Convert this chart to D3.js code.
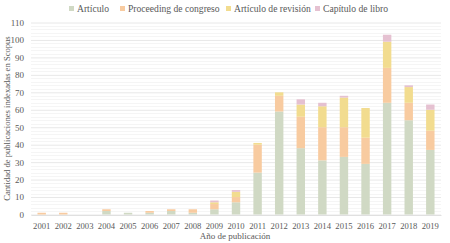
<!DOCTYPE html>
<meta charset="utf-8">
<title>Publicaciones indexadas en Scopus</title>
<style>
body { margin: 0; background: #fff; }
svg text { font-family: "Liberation Serif", Tinos, "Times New Roman", "DejaVu Serif", serif; }
</style>
<body>
<div id="chart"></div>
<script src="https://cdn.jsdelivr.net/npm/d3@7"></script>
<script>
// data
var years = ["2001","2002","2003","2004","2005","2006","2007","2008","2009","2010",
             "2011","2012","2013","2014","2015","2016","2017","2018","2019"];
var articulo   = [0,0,0,2,1,1,2,1,3,7,24,59,38,31,33,29,64,54,37];
var proceeding = [1,1,0,1,0,1,1,2,3,3,16,9,18,19,17,15,20,10,11];
var revision   = [0,0,0,0,0,0,0,0,1,3,1,2,7,12,17,17,15,9,12];
var capitulo   = [0,0,0,0,0,0,0,0,1,1,0,0,3,2,1,0,4,1,3];
var seriesNames = ["Artículo","Proceeding de congreso","Artículo de revisión","Capítulo de libro"];
var colors = ["#d0d9c4","#f8cba0","#f2dc8f","#e5c1d1"];

var width = 450, height = 243;
var margin = {top: 22, right: 9, bottom: 28, left: 31};
var textColor = "#595959";

var rows = years.map(function(y, i) {
  return {year: y, "Artículo": articulo[i], "Proceeding de congreso": proceeding[i],
          "Artículo de revisión": revision[i], "Capítulo de libro": capitulo[i]};
});
var stacked = d3.stack().keys(seriesNames)(rows);

var svg = d3.select("#chart").append("svg")
    .attr("width", width).attr("height", height);

var x = d3.scaleBand().domain(years)
    .range([margin.left, width - margin.right])
    .paddingInner(0.61).paddingOuter(0.3);
var y = d3.scaleLinear().domain([0, 110])
    .range([height - margin.bottom - 0.5, margin.top + 0.5]);

// minor gridlines every 2
svg.append("g").selectAll("line")
  .data(d3.range(0, 111, 2).filter(function(v){ return v % 10 != 0; }))
  .join("line")
    .attr("x1", margin.left).attr("x2", width - margin.right)
    .attr("y1", function(d){ return Math.round(y(d)) + 0.5; })
    .attr("y2", function(d){ return Math.round(y(d)) + 0.5; })
    .attr("stroke", "#f5f5f5");

// major gridlines + labels
var yAxis = svg.append("g")
    .attr("transform", "translate(" + margin.left + ",0)")
    .call(d3.axisLeft(y).tickValues(d3.range(0, 111, 10))
          .tickSize(-(width - margin.left - margin.right)).tickPadding(7));
yAxis.attr("font-family", null).attr("font-size", 9);
yAxis.select(".domain").remove();
yAxis.selectAll(".tick line").attr("stroke", "#e8e8e8");
yAxis.selectAll(".tick text").attr("fill", textColor);

// bars
svg.append("g").selectAll("g")
  .data(stacked)
  .join("g")
    .attr("fill", function(d, i){ return colors[i]; })
  .selectAll("rect")
  .data(function(d){ return d; })
  .join("rect")
    .attr("x", function(d){ return x(d.data.year); })
    .attr("width", x.bandwidth())
    .attr("y", function(d){ return y(d[1]); })
    .attr("height", function(d){ return y(d[0]) - y(d[1]); });

// x axis
var xAxis = svg.append("g")
    .attr("transform", "translate(0," + (height - margin.bottom) + ")")
    .call(d3.axisBottom(x).tickSize(0).tickPadding(8));
xAxis.attr("font-family", null).attr("font-size", 8.6);
xAxis.select(".domain").attr("stroke", "#e0e0e0");
xAxis.selectAll(".tick text").attr("fill", textColor);

// axis titles
svg.append("text")
    .attr("x", 235).attr("y", 239)
    .attr("text-anchor", "middle")
    .attr("font-size", 9).attr("fill", textColor)
    .text("Año de publicación");

svg.append("text")
    .attr("transform", "translate(10," + (margin.top + (height - margin.top - margin.bottom) / 2) + ") rotate(-90)")
    .attr("text-anchor", "middle")
    .attr("font-size", 8.6).attr("fill", textColor)
    .text("Cantidad de publicaciones indexadas en Scopus");

// legend
var legendX = [69, 120, 226, 315];
var legend = svg.append("g").selectAll("g")
  .data(seriesNames)
  .join("g")
    .attr("transform", function(d, i){ return "translate(" + legendX[i] + ",9)"; });
legend.append("rect")
    .attr("x", 0).attr("y", -3).attr("width", 5).attr("height", 5)
    .attr("fill", function(d, i){ return colors[i]; });
legend.append("text")
    .attr("x", 8).attr("y", 3.3)
    .attr("font-size", 9.6).attr("fill", textColor)
    .text(function(d){ return d; });
</script>
</body>
